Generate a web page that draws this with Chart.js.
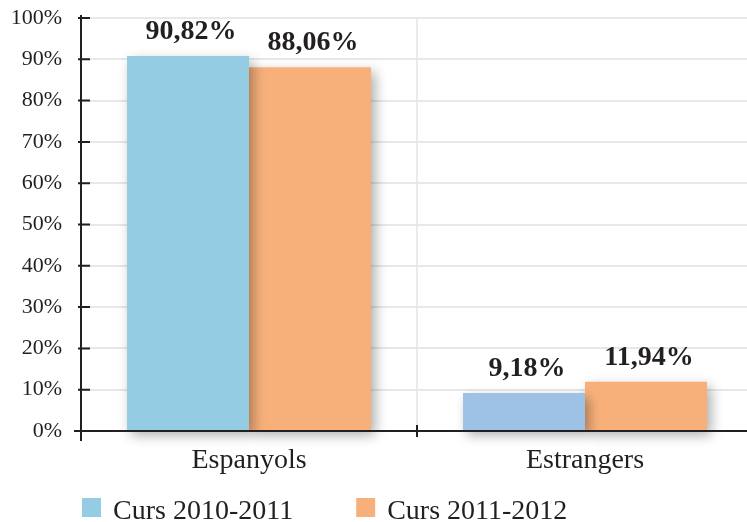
<!DOCTYPE html>
<html>
<head>
<meta charset="utf-8">
<script src="https://cdn.jsdelivr.net/npm/chart.js@4/dist/chart.umd.min.js"></script>
<style>
html,body{margin:0;padding:0;background:#fff;overflow:hidden;width:747px;height:522px;}
#wrap{position:absolute;left:0;top:0;width:755px;height:522px;}
</style>
</head>
<body>
<div id="wrap"><canvas id="c" width="755" height="522"></canvas></div>
<script>
const categories = ['Espanyols', 'Estrangers'];
const seriesNames = ['Curs 2010-2011', 'Curs 2011-2012'];
const values2010 = [90.82, 9.18];
const values2011 = [88.06, 11.94];
const colors2010 = ['#94cce3', '#9dc2e6'];
const colors2011 = ['#f8b07b', '#f8b07b'];
const yTicks = [0, 10, 20, 30, 40, 50, 60, 70, 80, 90, 100];

const SERIF = '"Liberation Serif", "DejaVu Serif", serif';
const INK = '#231f20';

function fmt(v){ return v.toFixed(2).replace('.', ',') + '%'; }

const shadowPlugin = {
  id: 'barShadow',
  beforeDatasetsDraw(chart){
    const ctx = chart.ctx;
    ctx.save();
    ctx.shadowColor = 'rgba(0,0,0,0.33)';
    ctx.shadowBlur = 12;
    ctx.shadowOffsetX = 4;
    ctx.shadowOffsetY = 5;
  },
  afterDatasetsDraw(chart){
    const ctx = chart.ctx;
    ctx.restore();
    ctx.save();
    ctx.font = 'bold 28px ' + SERIF;
    ctx.fillStyle = INK;
    ctx.textAlign = 'center';
    ctx.textBaseline = 'alphabetic';
    chart.data.datasets.forEach((ds, di) => {
      const meta = chart.getDatasetMeta(di);
      meta.data.forEach((bar, i) => {
        ctx.fillText(fmt(ds.data[i]), bar.x + 3, bar.y - 17);
      });
    });
    ctx.restore();
  }
};

const axesPlugin = {
  id: 'axesDraw',
  afterDraw(chart){
    const ctx = chart.ctx;
    const a = chart.chartArea;
    const ys = chart.scales.y, xs = chart.scales.x;
    ctx.save();
    ctx.strokeStyle = INK;
    ctx.lineWidth = 2;
    ctx.beginPath();
    ctx.moveTo(a.left, a.top - 3);
    ctx.lineTo(a.left, a.bottom + 10);
    ctx.moveTo(a.left - 7, a.bottom);
    ctx.lineTo(chart.width, a.bottom);
    yTicks.forEach(v => {
      const y = ys.getPixelForValue(v);
      ctx.moveTo(a.left - 3, y);
      ctx.lineTo(a.left + 9, y);
    });
    const step = xs.getPixelForValue(1) - xs.getPixelForValue(0);
    categories.forEach((c, i) => {
      const x = xs.getPixelForValue(i) + step / 2;
      ctx.moveTo(x, a.bottom - 6);
      ctx.lineTo(x, a.bottom + 6);
    });
    ctx.stroke();

    // legend
    ctx.font = '28px ' + SERIF;
    ctx.textBaseline = 'alphabetic';
    ctx.textAlign = 'left';
    let x = a.left + 1;
    const boxTop = 498, box = 19, baseline = 519;
    chart.data.datasets.forEach((ds, di) => {
      const col = Array.isArray(ds.backgroundColor) ? ds.backgroundColor[0] : ds.backgroundColor;
      ctx.fillStyle = col;
      ctx.fillRect(x, boxTop, box, box);
      ctx.fillStyle = INK;
      const tx = x + box + 12;
      ctx.fillText(ds.label, tx, baseline);
      x = tx + ctx.measureText(ds.label).width + 63;
    });
    ctx.restore();
  }
};

new Chart(document.getElementById('c'), {
  type: 'bar',
  data: {
    labels: categories,
    datasets: [
      { label: seriesNames[0], data: values2010, backgroundColor: colors2010, borderWidth: 0, clip: false },
      { label: seriesNames[1], data: values2011, backgroundColor: colors2011, borderWidth: 0, clip: false }
    ]
  },
  options: {
    responsive: false,
    animation: false,
    devicePixelRatio: 1,
    layout: { padding: { top: 18, right: 2, bottom: 47, left: 0 } },
    plugins: { legend: { display: false }, tooltip: { enabled: false } },
    datasets: { bar: { barPercentage: 1, categoryPercentage: 0.726 } },
    scales: {
      x: {
        grid: { color: '#ebebeb', lineWidth: 2, drawTicks: false, offset: true },
        border: { display: false },
        ticks: { color: INK, padding: 13, font: { family: SERIF, size: 28 } },
        afterFit(scale){ scale.height = 44; scale.paddingLeft = 0; scale.paddingRight = 0; }
      },
      y: {
        min: 0, max: 100,
        grid: { color: '#e8e8e8', lineWidth: 2, drawTicks: false },
        border: { display: false },
        ticks: {
          stepSize: 10, color: INK, padding: 19,
          font: { family: SERIF, size: 22 },
          callback: v => v + '%'
        },
        afterFit(scale){ scale.width = 81; scale.paddingTop = 0; scale.paddingBottom = 0; }
      }
    }
  },
  plugins: [shadowPlugin, axesPlugin]
});
</script>
</body>
</html>
